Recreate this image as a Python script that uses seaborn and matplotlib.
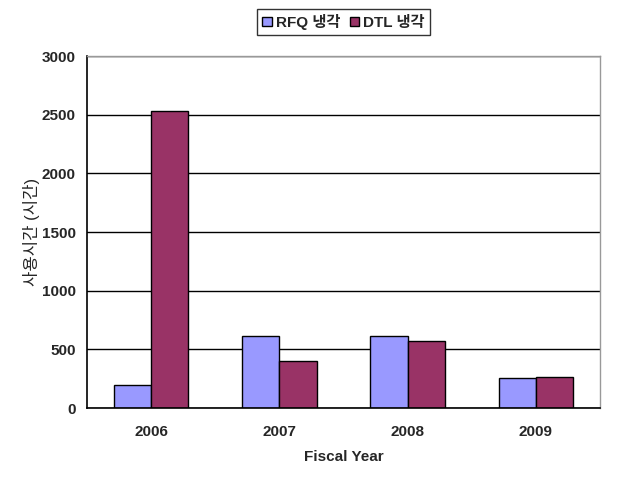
import matplotlib
matplotlib.use("Agg")
import matplotlib.pyplot as plt
import seaborn as sns
import pandas as pd
from matplotlib.ticker import FixedLocator

# Data
years = ["2006", "2007", "2008", "2009"]
rfq_hours = [200, 610, 612, 252]
dtl_hours = [2535, 400, 567, 262]
series_names = ["RFQ 냉각", "DTL 냉각"]
y_ticks = [0, 500, 1000, 1500, 2000, 2500, 3000]

df = pd.DataFrame({
    "year": years * 2,
    "hours": rfq_hours + dtl_hours,
    "series": [series_names[0]] * len(years) + [series_names[1]] * len(years),
})

sns.set_style("white")
plt.rcParams["font.family"] = ["Liberation Sans", "Noto Sans CJK KR"]

fig = plt.figure(figsize=(6.17, 4.79), dpi=100)
ax = fig.add_axes([87 / 617, 1 - 408 / 479, (600 - 87) / 617, (408 - 56) / 479])

sns.barplot(data=df, x="year", y="hours", hue="series",
            palette=["#9999FF", "#993366"], width=0.58, gap=0,
            edgecolor="black", linewidth=1, saturation=1, ax=ax)

ax.set_ylim(0, 3000)
ax.set_xlim(-0.5, 3.5)
ax.set_yticks(y_ticks)
ax.yaxis.grid(True, color="black", linewidth=1)
ax.set_axisbelow(True)
ax.tick_params(axis="y", length=0, labelsize=11, pad=8)
ax.tick_params(axis="x", length=0, labelsize=11, pad=12)
for lbl in ax.get_xticklabels() + ax.get_yticklabels():
    lbl.set_fontweight("bold")
ax.xaxis.set_minor_locator(FixedLocator([0.5, 1.5, 2.5]))
ax.tick_params(axis="x", which="minor", direction="in", length=5, width=1, color="black")

for side in ["left", "bottom"]:
    ax.spines[side].set_color("black")
    ax.spines[side].set_linewidth(1.2)
for side in ["top", "right"]:
    ax.spines[side].set_color("#999999")
    ax.spines[side].set_linewidth(1)

ax.set_xlabel("Fiscal Year", fontsize=11, fontweight="bold", labelpad=8)
ax.set_ylabel("사용시간 (시간)", fontsize=12, labelpad=1)

handles, labels = ax.get_legend_handles_labels()
ax.legend_.remove()
leg = fig.legend(handles, labels, loc="upper center", bbox_to_anchor=(0.557, 0.998),
                 ncol=2, frameon=True, fancybox=False, edgecolor="black",
                 handlelength=0.6, handleheight=0.6, handletextpad=0.3,
                 columnspacing=0.6, borderpad=0.35, prop={"size": 11, "weight": "bold"})
leg.get_frame().set_linewidth(1)

fig.savefig("out.png", dpi=100)
